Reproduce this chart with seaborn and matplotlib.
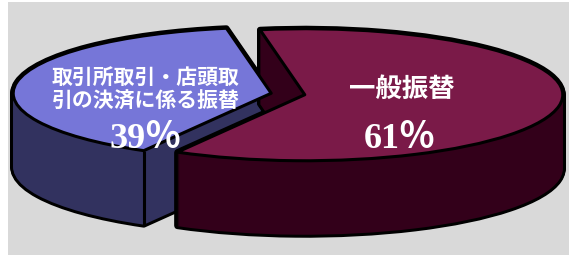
import numpy as np
import matplotlib.pyplot as plt
import seaborn as sns

# data
labels = ["取引所取引・店頭取\n引の決済に係る振替", "一般振替"]
shares = [39, 61]
pct_labels = ["39％", "61％"]
top_colors = ["#7676d8", "#7a1a48"]
side_colors = ["#32325f", "#33001a"]

sns.set_theme(style="white")
plt.rcParams['font.family'] = ['Noto Sans CJK JP', 'DejaVu Sans']

# pixel scale of the squashed pie (radius 1 in data units)
sx, sy = 258.0, 66.0
cx, cy = 288.0, 94.0
depth = 74 / sy
explode = [0.066, 0.066]
start = 100

fig = plt.figure(figsize=(5.69, 2.59), dpi=100, facecolor='white')
ax = fig.add_axes([8 / 569, 4 / 259, 561 / 569, 253 / 259])
ax.set_facecolor('#d9d9d9')


def layer(dy, faces, edge, lw, zorders):
    wedges, _ = ax.pie(shares, explode=explode, startangle=start, radius=1,
                       center=(0, -dy), frame=True,
                       wedgeprops=dict(edgecolor=edge, linewidth=lw, joinstyle='round'))
    for w, fc, z in zip(wedges, faces, zorders):
        w.set_facecolor(fc)
        w.set_zorder(z)
    return wedges


# side walls: black silhouette pass, then fill pass, bottom to top
for dy in np.linspace(depth, 0, 75):
    layer(dy, side_colors, 'black', 4.3, [1, 3])
    layer(dy, side_colors, 'none', 0, [2, 4])

# top faces
tops = layer(0, top_colors, 'black', 2.2, [5, 6])

# vertical edge at the front corner of the left slice
w = tops[0]
x_edge = w.center[0] + w.r * np.cos(np.radians(w.theta2))
y_edge = w.center[1] + w.r * np.sin(np.radians(w.theta2))
ax.vlines(x_edge, y_edge - depth, y_edge, colors='black', linewidth=2.2, zorder=2.5)

ax.set_aspect('auto')
ax.set_xlim((8 - cx) / sx, (569 - cx) / sx)
ax.set_ylim((cy - 255) / sy, (cy - 2) / sy)
ax.set_xticks([])
ax.set_yticks([])
for s in ax.spines.values():
    s.set_visible(False)

# labels
ax.text((146 - cx) / sx, (cy - 89.5) / sy, labels[0], color='white', fontsize=15,
        fontweight='bold', ha='center', va='center', linespacing=1.2, zorder=10)
ax.text((402 - cx) / sx, (cy - 89) / sy, labels[1], color='white', fontsize=19,
        fontweight='bold', ha='center', va='center', zorder=10)
for xp, t in zip([146, 400], pct_labels):
    ax.text((xp - cx) / sx, (cy - 148) / sy, t, color='white', fontsize=26,
            fontweight='bold', ha='center', va='baseline', zorder=10,
            family=['Liberation Serif', 'Noto Sans CJK JP'])

fig.savefig('out.png', dpi=100, facecolor='white')
